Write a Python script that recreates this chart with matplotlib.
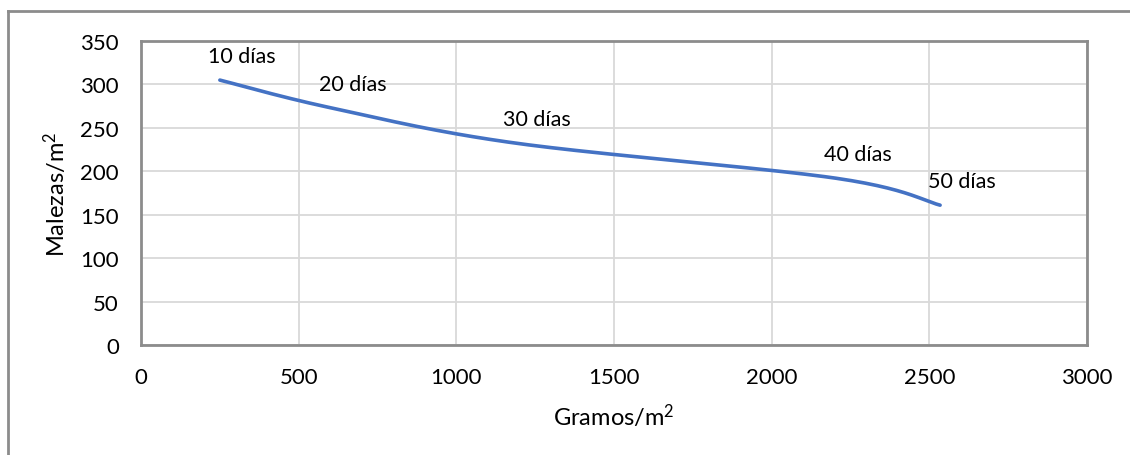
# malezas vs gramos chart
# recreate the excel scatter with smooth line

import matplotlib
matplotlib.use('Agg')
import matplotlib.pyplot as plt
from matplotlib.lines import Line2D
import numpy as np

# data
gramos = [250, 603, 1186, 2204, 2534]
malezas = [305, 273, 232.5, 192, 161]
etiquetas = ['10 días', '20 días', '30 días', '40 días', '50 días']

x_ticks = [0, 500, 1000, 1500, 2000, 2500, 3000]
y_ticks = [0, 50, 100, 150, 200, 250, 300, 350]

plt.rcParams['font.family'] = ['Lato', 'DejaVu Sans']
plt.rcParams['mathtext.fontset'] = 'custom'
plt.rcParams['mathtext.rm'] = 'Lato'
plt.rcParams['mathtext.default'] = 'rm'

# excel-like smoothing: cubic bezier with catmull-rom control points
def smooth(xs, ys, n = 40):
    p = np.column_stack([xs, ys]).astype(float)
    pts = [p[0]]
    for i in range(len(p) - 1):
        p0 = p[i - 1] if i > 0 else p[i]
        p1, p2 = p[i], p[i + 1]
        p3 = p[i + 2] if i + 2 < len(p) else p[i + 1]
        c1 = p1 + (p2 - p0) / 6
        c2 = p2 - (p3 - p1) / 6
        t = np.linspace(0, 1, n)[1:, None]
        seg = ((1 - t) ** 3) * p1 + 3 * ((1 - t) ** 2) * t * c1 \
            + 3 * (1 - t) * t ** 2 * c2 + t ** 3 * p2
        pts.extend(seg)
    pts = np.array(pts)
    return pts[:, 0], pts[:, 1]

fig = plt.figure(figsize = (11.3, 4.56), dpi = 100)
ax = fig.add_axes([0.1248, 0.2412, 0.8372, 0.6667])

sx, sy = smooth(gramos, malezas)
ax.plot(sx, sy, color = '#4472c4', lw = 2.6, solid_capstyle = 'round', zorder = 3)

# labels sit above-right of each point
for xv, yv, lab in zip(gramos, malezas, etiquetas):
    ax.annotate(lab, (xv, yv), xytext = (22, 24), textcoords = 'offset pixels',
                ha = 'center', va = 'center', fontsize = 15.5, color = '#000000')

ax.set_xlim(0, 3000)
ax.set_ylim(0, 350)
ax.set_xticks(x_ticks)
ax.set_yticks(y_ticks)
ax.tick_params(length = 0, labelsize = 16, pad = 16)
ax.tick_params(axis = 'x', pad = 16)
ax.grid(True, color = '#d9d9d9', lw = 1.3)
ax.set_axisbelow(True)
for s in ax.spines.values():
    s.set_color('#8c8c8c')
    s.set_linewidth(2)

ax.set_xlabel('Gramos/m$^2$', fontsize = 17, labelpad = 10)
ax.set_ylabel('Malezas/m$^2$', fontsize = 17, labelpad = 8)

# outer chart frame (only left and top visible in the crop)
fig.add_artist(Line2D([8 / 1130, 8 / 1130], [0, 1 - 12 / 456],
                      color = '#8c8c8c', lw = 2, transform = fig.transFigure))
fig.add_artist(Line2D([8 / 1130, 1], [1 - 12 / 456, 1 - 12 / 456],
                      color = '#8c8c8c', lw = 2, transform = fig.transFigure))

fig.savefig('out.png', dpi = 100)
